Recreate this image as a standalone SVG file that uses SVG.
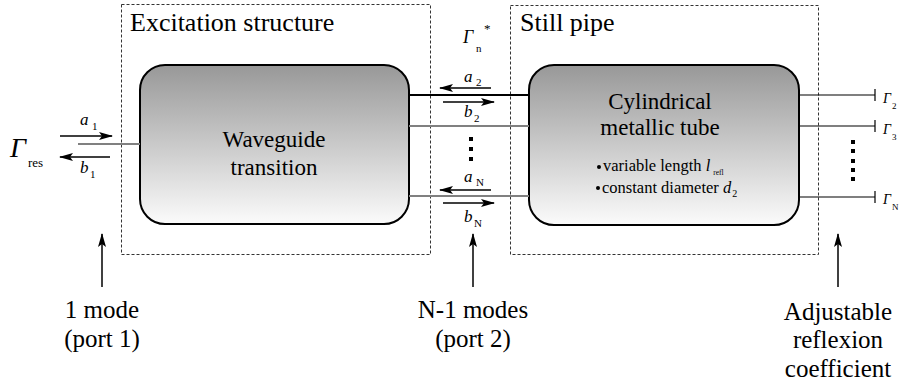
<svg xmlns="http://www.w3.org/2000/svg" width="899" height="388" viewBox="0 0 899 388">
<defs>
<linearGradient id="g" x1="0" y1="0" x2="0" y2="1">
<stop offset="0" stop-color="#989898"/>
<stop offset="1" stop-color="#fbfbfb"/>
</linearGradient>
<marker id="ah" markerWidth="14" markerHeight="8" refX="13" refY="4" orient="auto" markerUnits="userSpaceOnUse">
<path d="M0,0 L14,4 L0,8 L3,4 z" fill="#000"/>
</marker>
</defs>
<style>
.it{font-style:italic}
.dash{fill:none;stroke:#333;stroke-width:1;stroke-dasharray:3,2}
.box{fill:url(#g);stroke:#000;stroke-width:2}
.arr{stroke:#000;stroke-width:1.5;fill:none;marker-end:url(#ah)}
.gl{stroke:#808080;stroke-width:2;fill:none}
.bl{stroke:#000;stroke-width:1.2;fill:none}
.t26{font-size:26px}
.t25{font-size:25px}
.t23{font-size:23px}
.t17{font-size:17px}
.sub{font-size:11px}
</style>
<g font-family="Liberation Serif, serif" fill="#000">

<g id="excitation-structure">
<rect class="dash" x="121.5" y="4.5" width="309" height="250"/>
<text class="t26" x="130" y="31">Excitation structure</text>
</g>
<g id="still-pipe">
<rect class="dash" x="510.5" y="5.5" width="308" height="249"/>
<text class="t26" x="520" y="31">Still pipe</text>
</g>

<g id="waveguide-transition">
<rect class="box" x="140" y="65" width="269" height="159" rx="25" ry="25"/>
<text class="t23" x="274" y="147" text-anchor="middle">Waveguide</text>
<text class="t23" x="274" y="175" text-anchor="middle">transition</text>
</g>

<g id="cylindrical-tube">
<rect class="box" x="529" y="65" width="270" height="160" rx="25" ry="25"/>
<text class="t23" x="660" y="109" text-anchor="middle">Cylindrical</text>
<text class="t23" x="660" y="135" text-anchor="middle">metallic tube</text>
<circle cx="599" cy="167" r="2"/>
<text style="font-size:16.5px" x="603" y="171">variable length <tspan class="it">l</tspan><tspan style="font-size:7.5px" dx="3" dy="4">refl</tspan></text>
<circle cx="598" cy="188" r="2"/>
<text style="font-size:16.5px" x="602" y="193">constant diameter <tspan class="it">d</tspan><tspan style="font-size:10px" dx="1" dy="4">2</tspan></text>
</g>

<g id="port1-label">
<text x="10" y="157" class="it" style="font-size:28px">Γ</text>
<text x="28" y="167" style="font-size:13px">res</text>
</g>

<g id="gamma-n-label">
<text x="463" y="43" class="it" style="font-size:18px">Γ</text>
<text x="476" y="52" class="sub">n</text>
<text x="484" y="33" style="font-size:13px">*</text>
</g>

<g id="terminations">
<text x="883" y="103" class="it" style="font-size:14px">Γ</text>
<text x="892" y="109" style="font-size:9px">2</text>
<text x="883" y="134" class="it" style="font-size:14px">Γ</text>
<text x="892" y="140" style="font-size:9px">3</text>
<text x="883" y="204" class="it" style="font-size:14px">Γ</text>
<text x="892" y="210" style="font-size:9px">N</text>
</g>

<g id="connectors">
<line class="gl" x1="78" y1="144" x2="140" y2="144"/>
<line class="arr" x1="60" y1="136" x2="112" y2="136"/>
<line class="arr" x1="110" y1="157" x2="60" y2="157"/>
<line x1="409" y1="95" x2="529" y2="95" stroke="#000" stroke-width="2"/>
<line class="gl" x1="409" y1="126" x2="529" y2="126"/>
<line class="gl" x1="409" y1="196" x2="529" y2="196"/>
<line class="arr" x1="491" y1="88" x2="440" y2="88"/>
<line class="arr" x1="443" y1="102" x2="494" y2="102"/>
<line class="arr" x1="491" y1="190" x2="440" y2="190"/>
<line class="arr" x1="443" y1="203" x2="494" y2="203"/>
<rect x="469" y="137" width="4" height="4"/>
<rect x="469" y="147" width="4" height="4"/>
<rect x="469" y="157" width="4" height="4"/>
<path class="bl" d="M799,95 H875 M875,89 V101 M799,126 H875 M875,120 V132 M799,197 H875 M875,191 V203"/>
<rect x="851" y="140" width="4" height="4"/>
<rect x="851" y="149" width="4" height="4"/>
<rect x="851" y="159" width="4" height="4"/>
<rect x="851" y="168" width="4" height="4"/>
<rect x="851" y="177" width="4" height="4"/>
<line class="arr" x1="102" y1="287" x2="102" y2="234"/>
<line class="arr" x1="473" y1="287" x2="473" y2="234"/>
<line class="arr" x1="838" y1="287" x2="838" y2="234"/>
</g>

<g id="wave-labels">
<text x="80" y="125" class="it t17">a</text><text x="92" y="130" class="sub">1</text>
<text x="80" y="173" class="it t17">b</text><text x="90" y="178" class="sub">1</text>
<text x="464" y="82" class="it t17">a</text><text x="476" y="86" class="sub">2</text>
<text x="464" y="117" class="it t17">b</text><text x="474" y="122" class="sub">2</text>
<text x="464" y="182" class="it t17">a</text><text x="476" y="186" class="sub">N</text>
<text x="464" y="222" class="it t17">b</text><text x="474" y="227" class="sub">N</text>
</g>

<g id="bottom-labels">
<text class="t25" x="102" y="318" text-anchor="middle">1 mode</text>
<text class="t25" x="102" y="347" text-anchor="middle">(port 1)</text>
<text class="t25" x="473" y="318" text-anchor="middle">N-1 modes</text>
<text class="t25" x="473" y="347" text-anchor="middle">(port 2)</text>
<text class="t25" x="838" y="320" text-anchor="middle">Adjustable</text>
<text class="t25" x="838" y="348" text-anchor="middle">reflexion</text>
<text class="t25" x="838" y="377" text-anchor="middle">coefficient</text>
</g>
</g>
</svg>
